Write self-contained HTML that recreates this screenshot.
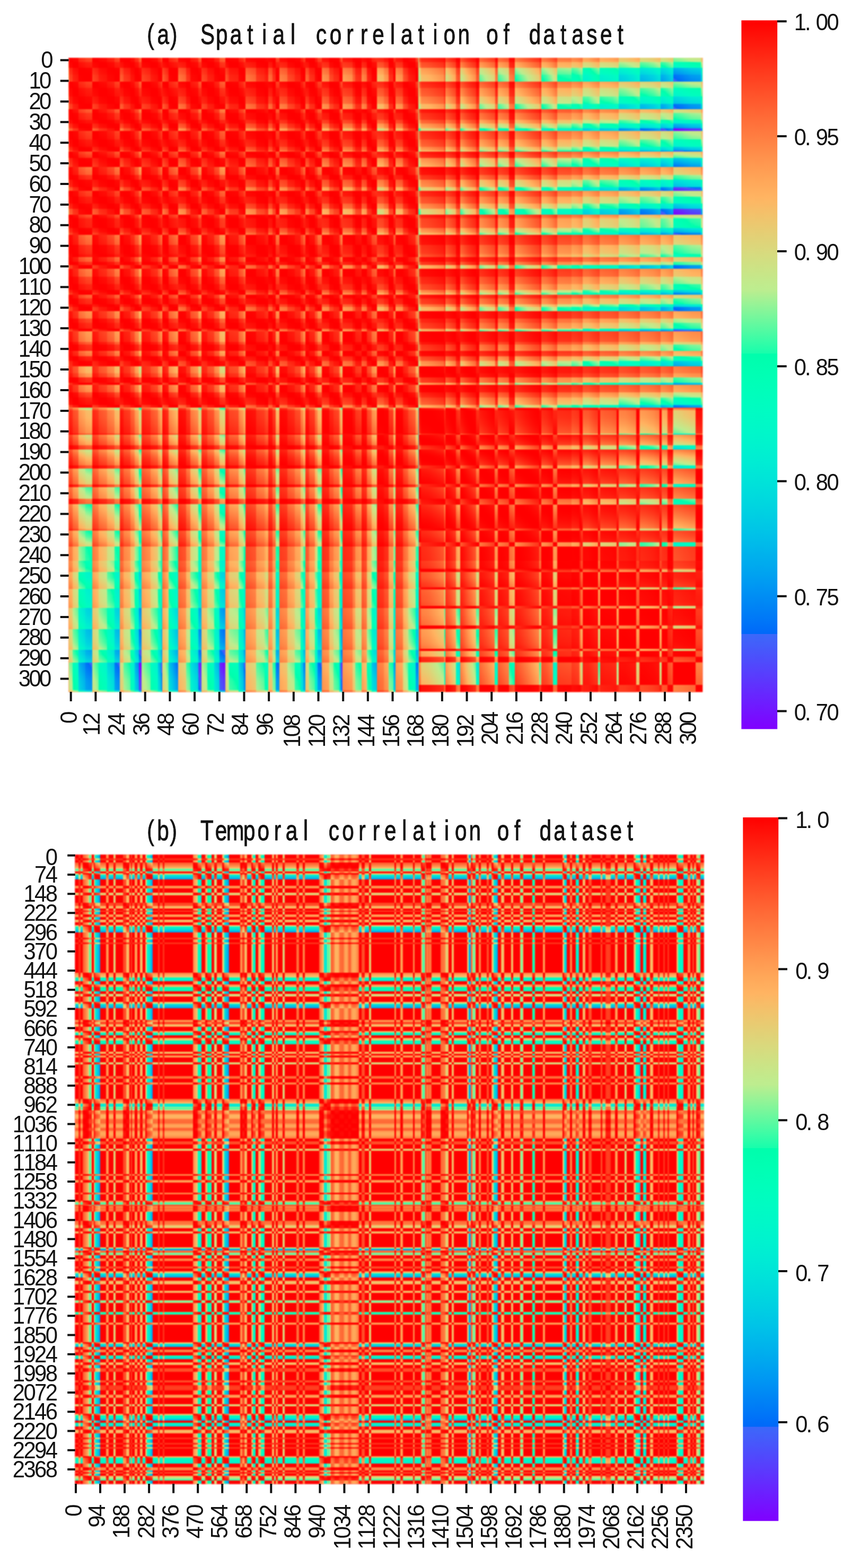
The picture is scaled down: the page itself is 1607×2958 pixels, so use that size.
<!DOCTYPE html>
<html lang="en"><head><meta charset="utf-8"><title>Spatial and temporal correlation of dataset</title><style>html,body{margin:0;padding:0;background:#fff}svg{display:block}</style></head><body>
<svg width="1607" height="2958" viewBox="0 0 1607 2958">
<defs>
<linearGradient id="gxam" gradientUnits="userSpaceOnUse" x1="129.3" y1="0" x2="1325.3" y2="0"><stop offset="0" stop-color="#a0a0a0"/><stop offset=".00669" stop-color="#a7a7a7"/><stop offset=".00669" stop-color="#b6b6b6"/><stop offset=".01589" stop-color="#c1c1c1"/><stop offset=".01589" stop-color="#dbdbdb"/><stop offset=".02642" stop-color="#e5e5e5"/><stop offset=".02642" stop-color="#e9e9e9"/><stop offset=".03779" stop-color="#eeeeee"/><stop offset=".03779" stop-color="#a0a0a0"/><stop offset=".04741" stop-color="#adadad"/><stop offset=".04741" stop-color="#b9b9b9"/><stop offset=".06062" stop-color="#c4c4c4"/><stop offset=".06062" stop-color="#cfcfcf"/><stop offset=".07241" stop-color="#d9d9d9"/><stop offset=".07241" stop-color="#e9e9e9"/><stop offset=".08094" stop-color="#eeeeee"/><stop offset=".08094" stop-color="#929292"/><stop offset=".08687" stop-color="#999999"/><stop offset=".08687" stop-color="#a7a7a7"/><stop offset=".09741" stop-color="#b0b0b0"/><stop offset=".09741" stop-color="#bfbfbf"/><stop offset=".10393" stop-color="#c9c9c9"/><stop offset=".10393" stop-color="#d9d9d9"/><stop offset=".1112" stop-color="#e7e7e7"/><stop offset=".1112" stop-color="#fbfbfb"/><stop offset=".1153" stop-color="#ffffff"/><stop offset=".1153" stop-color="#a0a0a0"/><stop offset=".12893" stop-color="#adadad"/><stop offset=".12893" stop-color="#b9b9b9"/><stop offset=".1408" stop-color="#c7c7c7"/><stop offset=".1408" stop-color="#d6d6d6"/><stop offset=".14607" stop-color="#e2e2e2"/><stop offset=".14607" stop-color="#f0f0f0"/><stop offset=".14783" stop-color="#f0f0f0"/><stop offset=".14783" stop-color="#929292"/><stop offset=".15811" stop-color="#adadad"/><stop offset=".15811" stop-color="#d6d6d6"/><stop offset=".17241" stop-color="#ececec"/><stop offset=".17241" stop-color="#868686"/><stop offset=".18495" stop-color="#929292"/><stop offset=".18495" stop-color="#a7a7a7"/><stop offset=".19181" stop-color="#b0b0b0"/><stop offset=".19181" stop-color="#cccccc"/><stop offset=".20426" stop-color="#dbdbdb"/><stop offset=".20426" stop-color="#f2f2f2"/><stop offset=".20953" stop-color="#fbfbfb"/><stop offset=".20953" stop-color="#9d9d9d"/><stop offset=".21881" stop-color="#a7a7a7"/><stop offset=".21881" stop-color="#b6b6b6"/><stop offset=".22968" stop-color="#bfbfbf"/><stop offset=".22968" stop-color="#d1d1d1"/><stop offset=".23846" stop-color="#dedede"/><stop offset=".23846" stop-color="#f7f7f7"/><stop offset=".24699" stop-color="#fdfdfd"/><stop offset=".24699" stop-color="#929292"/><stop offset=".25309" stop-color="#a7a7a7"/><stop offset=".25309" stop-color="#b3b3b3"/><stop offset=".26814" stop-color="#b9b9b9"/><stop offset=".26814" stop-color="#d1d1d1"/><stop offset=".27609" stop-color="#e2e2e2"/><stop offset=".27609" stop-color="#ececec"/><stop offset=".27943" stop-color="#f0f0f0"/><stop offset=".27943" stop-color="#868686"/><stop offset=".29532" stop-color="#929292"/><stop offset=".29532" stop-color="#a7a7a7"/><stop offset=".30911" stop-color="#b0b0b0"/><stop offset=".30911" stop-color="#b6b6b6"/><stop offset=".31463" stop-color="#bfbfbf"/><stop offset=".31463" stop-color="#8a8a8a"/><stop offset=".32149" stop-color="#929292"/><stop offset=".32149" stop-color="#aaaaaa"/><stop offset=".32709" stop-color="#b0b0b0"/><stop offset=".32709" stop-color="#e9e9e9"/><stop offset=".33278" stop-color="#ececec"/><stop offset=".33278" stop-color="#828282"/><stop offset=".34532" stop-color="#8a8a8a"/><stop offset=".34532" stop-color="#9d9d9d"/><stop offset=".35669" stop-color="#a7a7a7"/><stop offset=".35669" stop-color="#b3b3b3"/><stop offset=".36572" stop-color="#b9b9b9"/><stop offset=".36572" stop-color="#d1d1d1"/><stop offset=".37032" stop-color="#d9d9d9"/><stop offset=".37032" stop-color="#e5e5e5"/><stop offset=".37366" stop-color="#e9e9e9"/><stop offset=".37366" stop-color="#8e8e8e"/><stop offset=".37935" stop-color="#969696"/><stop offset=".37935" stop-color="#aaaaaa"/><stop offset=".38855" stop-color="#b3b3b3"/><stop offset=".38855" stop-color="#cccccc"/><stop offset=".39298" stop-color="#d6d6d6"/><stop offset=".39298" stop-color="#e9e9e9"/><stop offset=".39983" stop-color="#eeeeee"/><stop offset=".39983" stop-color="#7a7a7a"/><stop offset=".41112" stop-color="#828282"/><stop offset=".41112" stop-color="#9d9d9d"/><stop offset=".41798" stop-color="#a3a3a3"/><stop offset=".41798" stop-color="#adadad"/><stop offset=".42701" stop-color="#b6b6b6"/><stop offset=".42701" stop-color="#d6d6d6"/><stop offset=".42952" stop-color="#e5e5e5"/><stop offset=".42952" stop-color="#f2f2f2"/><stop offset=".43161" stop-color="#f7f7f7"/><stop offset=".43161" stop-color="#757575"/><stop offset=".44758" stop-color="#7e7e7e"/><stop offset=".44758" stop-color="#8e8e8e"/><stop offset=".45209" stop-color="#969696"/><stop offset=".45209" stop-color="#aaaaaa"/><stop offset=".46229" stop-color="#b3b3b3"/><stop offset=".46229" stop-color="#7e7e7e"/><stop offset=".47023" stop-color="#8a8a8a"/><stop offset=".47023" stop-color="#b0b0b0"/><stop offset=".47818" stop-color="#c1c1c1"/><stop offset=".47818" stop-color="#d6d6d6"/><stop offset=".4862" stop-color="#e0e0e0"/><stop offset=".4862" stop-color="#666666"/><stop offset=".49749" stop-color="#6c6c6c"/><stop offset=".49749" stop-color="#757575"/><stop offset=".50435" stop-color="#7e7e7e"/><stop offset=".50435" stop-color="#aaaaaa"/><stop offset=".51229" stop-color="#b0b0b0"/><stop offset=".51229" stop-color="#dbdbdb"/><stop offset=".51564" stop-color="#e5e5e5"/><stop offset=".51564" stop-color="#757575"/><stop offset=".52709" stop-color="#7e7e7e"/><stop offset=".52709" stop-color="#969696"/><stop offset=".53612" stop-color="#aaaaaa"/><stop offset=".53612" stop-color="#b6b6b6"/><stop offset=".54741" stop-color="#c7c7c7"/><stop offset=".54741" stop-color="#e5e5e5"/><stop offset=".55201" stop-color="#ececec"/><stop offset=".55201" stop-color="#484848"/><stop offset=".55602" stop-color="#5d5d5d"/><stop offset=".55602" stop-color="#686868"/><stop offset=".56831" stop-color="#6c6c6c"/><stop offset=".5806" stop-color="#747474"/><stop offset=".59289" stop-color="#7d7d7d"/><stop offset=".59289" stop-color="#979797"/><stop offset=".59423" stop-color="#979797"/><stop offset=".59423" stop-color="#565656"/><stop offset=".61054" stop-color="#747474"/><stop offset=".61054" stop-color="#919191"/><stop offset=".61781" stop-color="#9e9e9e"/><stop offset=".61781" stop-color="#4f4f4f"/><stop offset=".63006" stop-color="#686868"/><stop offset=".64231" stop-color="#7d7d7d"/><stop offset=".64231" stop-color="#979797"/><stop offset=".64741" stop-color="#979797"/><stop offset=".64741" stop-color="#454545"/><stop offset=".66003" stop-color="#525252"/><stop offset=".67266" stop-color="#606060"/><stop offset=".67266" stop-color="#878787"/><stop offset=".67726" stop-color="#878787"/><stop offset=".67726" stop-color="#424242"/><stop offset=".69498" stop-color="#525252"/><stop offset=".69498" stop-color="#828282"/><stop offset=".7036" stop-color="#8c8c8c"/><stop offset=".7036" stop-color="#3c3c3c"/><stop offset=".72329" stop-color="#4f4f4f"/><stop offset=".74298" stop-color="#646464"/><stop offset=".74298" stop-color="#747474"/><stop offset=".74557" stop-color="#747474"/><stop offset=".74557" stop-color="#3c3c3c"/><stop offset=".75393" stop-color="#424242"/><stop offset=".76229" stop-color="#4c4c4c"/><stop offset=".77065" stop-color="#5d5d5d"/><stop offset=".77065" stop-color="#3c3c3c"/><stop offset=".79281" stop-color="#3f3f3f"/><stop offset=".79281" stop-color="#353535"/><stop offset=".80188" stop-color="#393939"/><stop offset=".81095" stop-color="#424242"/><stop offset=".81095" stop-color="#292929"/><stop offset=".81973" stop-color="#2b2b2b"/><stop offset=".82851" stop-color="#343434"/><stop offset=".83729" stop-color="#3c3c3c"/><stop offset=".83729" stop-color="#262626"/><stop offset=".8473" stop-color="#292929"/><stop offset=".8573" stop-color="#2b2b2b"/><stop offset=".86731" stop-color="#313131"/><stop offset=".86731" stop-color="#191919"/><stop offset=".87851" stop-color="#1c1c1c"/><stop offset=".88972" stop-color="#212121"/><stop offset=".90092" stop-color="#292929"/><stop offset=".90092" stop-color="#121212"/><stop offset=".91182" stop-color="#151515"/><stop offset=".92271" stop-color="#191919"/><stop offset=".93361" stop-color="#212121"/><stop offset=".93361" stop-color="#0d0d0d"/><stop offset=".9403" stop-color="#101010"/><stop offset=".94699" stop-color="#151515"/><stop offset=".95368" stop-color="#1c1c1c"/><stop offset=".95368" stop-color="#000000"/><stop offset=".9682" stop-color="#040404"/><stop offset=".98272" stop-color="#090909"/><stop offset=".99724" stop-color="#0b0b0b"/><stop offset=".99724" stop-color="#1c1c1c"/><stop offset="1" stop-color="#1c1c1c"/></linearGradient><linearGradient id="gyam" href="#gxam" gradientUnits="userSpaceOnUse" x1="0" y1="109" x2="0" y2="1305.5"/><linearGradient id="gxar" gradientUnits="userSpaceOnUse" x1="129.3" y1="0" x2="1325.3" y2="0"><stop offset="0" stop-color="#a0a0a0"/><stop offset=".00669" stop-color="#a7a7a7"/><stop offset=".00669" stop-color="#b6b6b6"/><stop offset=".01589" stop-color="#c1c1c1"/><stop offset=".01589" stop-color="#dbdbdb"/><stop offset=".02642" stop-color="#e5e5e5"/><stop offset=".02642" stop-color="#e9e9e9"/><stop offset=".03779" stop-color="#eeeeee"/><stop offset=".03779" stop-color="#a0a0a0"/><stop offset=".04741" stop-color="#adadad"/><stop offset=".04741" stop-color="#b9b9b9"/><stop offset=".06062" stop-color="#c4c4c4"/><stop offset=".06062" stop-color="#cfcfcf"/><stop offset=".07241" stop-color="#d9d9d9"/><stop offset=".07241" stop-color="#e9e9e9"/><stop offset=".08094" stop-color="#eeeeee"/><stop offset=".08094" stop-color="#929292"/><stop offset=".08687" stop-color="#999999"/><stop offset=".08687" stop-color="#a7a7a7"/><stop offset=".09741" stop-color="#b0b0b0"/><stop offset=".09741" stop-color="#bfbfbf"/><stop offset=".10393" stop-color="#c9c9c9"/><stop offset=".10393" stop-color="#d9d9d9"/><stop offset=".1112" stop-color="#e7e7e7"/><stop offset=".1112" stop-color="#fbfbfb"/><stop offset=".1153" stop-color="#ffffff"/><stop offset=".1153" stop-color="#a0a0a0"/><stop offset=".12893" stop-color="#adadad"/><stop offset=".12893" stop-color="#b9b9b9"/><stop offset=".1408" stop-color="#c7c7c7"/><stop offset=".1408" stop-color="#d6d6d6"/><stop offset=".14607" stop-color="#e2e2e2"/><stop offset=".14607" stop-color="#f0f0f0"/><stop offset=".14783" stop-color="#f0f0f0"/><stop offset=".14783" stop-color="#929292"/><stop offset=".15811" stop-color="#adadad"/><stop offset=".15811" stop-color="#d6d6d6"/><stop offset=".17241" stop-color="#ececec"/><stop offset=".17241" stop-color="#868686"/><stop offset=".18495" stop-color="#929292"/><stop offset=".18495" stop-color="#a7a7a7"/><stop offset=".19181" stop-color="#b0b0b0"/><stop offset=".19181" stop-color="#cccccc"/><stop offset=".20426" stop-color="#dbdbdb"/><stop offset=".20426" stop-color="#f2f2f2"/><stop offset=".20953" stop-color="#fbfbfb"/><stop offset=".20953" stop-color="#9d9d9d"/><stop offset=".21881" stop-color="#a7a7a7"/><stop offset=".21881" stop-color="#b6b6b6"/><stop offset=".22968" stop-color="#bfbfbf"/><stop offset=".22968" stop-color="#d1d1d1"/><stop offset=".23846" stop-color="#dedede"/><stop offset=".23846" stop-color="#f7f7f7"/><stop offset=".24699" stop-color="#fdfdfd"/><stop offset=".24699" stop-color="#929292"/><stop offset=".25309" stop-color="#a7a7a7"/><stop offset=".25309" stop-color="#b3b3b3"/><stop offset=".26814" stop-color="#b9b9b9"/><stop offset=".26814" stop-color="#d1d1d1"/><stop offset=".27609" stop-color="#e2e2e2"/><stop offset=".27609" stop-color="#ececec"/><stop offset=".27943" stop-color="#f0f0f0"/><stop offset=".27943" stop-color="#868686"/><stop offset=".29532" stop-color="#929292"/><stop offset=".29532" stop-color="#a7a7a7"/><stop offset=".30911" stop-color="#b0b0b0"/><stop offset=".30911" stop-color="#b6b6b6"/><stop offset=".31463" stop-color="#bfbfbf"/><stop offset=".31463" stop-color="#8a8a8a"/><stop offset=".32149" stop-color="#929292"/><stop offset=".32149" stop-color="#aaaaaa"/><stop offset=".32709" stop-color="#b0b0b0"/><stop offset=".32709" stop-color="#e9e9e9"/><stop offset=".33278" stop-color="#ececec"/><stop offset=".33278" stop-color="#828282"/><stop offset=".34532" stop-color="#8a8a8a"/><stop offset=".34532" stop-color="#9d9d9d"/><stop offset=".35669" stop-color="#a7a7a7"/><stop offset=".35669" stop-color="#b3b3b3"/><stop offset=".36572" stop-color="#b9b9b9"/><stop offset=".36572" stop-color="#d1d1d1"/><stop offset=".37032" stop-color="#d9d9d9"/><stop offset=".37032" stop-color="#e5e5e5"/><stop offset=".37366" stop-color="#e9e9e9"/><stop offset=".37366" stop-color="#8e8e8e"/><stop offset=".37935" stop-color="#969696"/><stop offset=".37935" stop-color="#aaaaaa"/><stop offset=".38855" stop-color="#b3b3b3"/><stop offset=".38855" stop-color="#cccccc"/><stop offset=".39298" stop-color="#d6d6d6"/><stop offset=".39298" stop-color="#e9e9e9"/><stop offset=".39983" stop-color="#eeeeee"/><stop offset=".39983" stop-color="#7a7a7a"/><stop offset=".41112" stop-color="#828282"/><stop offset=".41112" stop-color="#9d9d9d"/><stop offset=".41798" stop-color="#a3a3a3"/><stop offset=".41798" stop-color="#adadad"/><stop offset=".42701" stop-color="#b6b6b6"/><stop offset=".42701" stop-color="#d6d6d6"/><stop offset=".42952" stop-color="#e5e5e5"/><stop offset=".42952" stop-color="#f2f2f2"/><stop offset=".43161" stop-color="#f7f7f7"/><stop offset=".43161" stop-color="#757575"/><stop offset=".44758" stop-color="#7e7e7e"/><stop offset=".44758" stop-color="#8e8e8e"/><stop offset=".45209" stop-color="#969696"/><stop offset=".45209" stop-color="#aaaaaa"/><stop offset=".46229" stop-color="#b3b3b3"/><stop offset=".46229" stop-color="#7e7e7e"/><stop offset=".47023" stop-color="#8a8a8a"/><stop offset=".47023" stop-color="#b0b0b0"/><stop offset=".47818" stop-color="#c1c1c1"/><stop offset=".47818" stop-color="#d6d6d6"/><stop offset=".4862" stop-color="#e0e0e0"/><stop offset=".4862" stop-color="#666666"/><stop offset=".49749" stop-color="#6c6c6c"/><stop offset=".49749" stop-color="#757575"/><stop offset=".50435" stop-color="#7e7e7e"/><stop offset=".50435" stop-color="#aaaaaa"/><stop offset=".51229" stop-color="#b0b0b0"/><stop offset=".51229" stop-color="#dbdbdb"/><stop offset=".51564" stop-color="#e5e5e5"/><stop offset=".51564" stop-color="#757575"/><stop offset=".52709" stop-color="#7e7e7e"/><stop offset=".52709" stop-color="#969696"/><stop offset=".53612" stop-color="#aaaaaa"/><stop offset=".53612" stop-color="#b6b6b6"/><stop offset=".54741" stop-color="#c7c7c7"/><stop offset=".54741" stop-color="#e5e5e5"/><stop offset=".55201" stop-color="#ececec"/><stop offset=".55201" stop-color="#484848"/><stop offset=".55602" stop-color="#5d5d5d"/><stop offset=".55602" stop-color="#686868"/><stop offset=".56831" stop-color="#6c6c6c"/><stop offset=".5806" stop-color="#747474"/><stop offset=".59289" stop-color="#7d7d7d"/><stop offset=".59289" stop-color="#979797"/><stop offset=".59423" stop-color="#979797"/><stop offset=".59423" stop-color="#565656"/><stop offset=".61054" stop-color="#747474"/><stop offset=".61054" stop-color="#919191"/><stop offset=".61781" stop-color="#9e9e9e"/><stop offset=".61781" stop-color="#4f4f4f"/><stop offset=".63006" stop-color="#686868"/><stop offset=".64231" stop-color="#7d7d7d"/><stop offset=".64231" stop-color="#979797"/><stop offset=".64741" stop-color="#979797"/><stop offset=".64741" stop-color="#454545"/><stop offset=".66003" stop-color="#525252"/><stop offset=".66003" stop-color="#525252"/><stop offset=".67232" stop-color="#606060"/><stop offset=".67232" stop-color="#929292"/><stop offset=".67684" stop-color="#929292"/><stop offset=".67684" stop-color="#878787"/><stop offset=".67726" stop-color="#878787"/><stop offset=".67726" stop-color="#424242"/><stop offset=".69498" stop-color="#525252"/><stop offset=".69498" stop-color="#828282"/><stop offset=".70276" stop-color="#8b8b8b"/><stop offset=".70276" stop-color="#8d8d8d"/><stop offset=".70418" stop-color="#8d8d8d"/><stop offset=".70418" stop-color="#3d3d3d"/><stop offset=".72329" stop-color="#4f4f4f"/><stop offset=".72329" stop-color="#4f4f4f"/><stop offset=".74222" stop-color="#636363"/><stop offset=".74222" stop-color="#808080"/><stop offset=".74515" stop-color="#808080"/><stop offset=".74515" stop-color="#747474"/><stop offset=".74557" stop-color="#747474"/><stop offset=".74557" stop-color="#3c3c3c"/><stop offset=".75393" stop-color="#424242"/><stop offset=".75393" stop-color="#424242"/><stop offset=".76229" stop-color="#4c4c4c"/><stop offset=".76229" stop-color="#4c4c4c"/><stop offset=".76421" stop-color="#4f4f4f"/><stop offset=".76421" stop-color="#929292"/><stop offset=".77065" stop-color="#929292"/><stop offset=".77065" stop-color="#3c3c3c"/><stop offset=".79281" stop-color="#3f3f3f"/><stop offset=".79281" stop-color="#353535"/><stop offset=".80188" stop-color="#393939"/><stop offset=".80188" stop-color="#393939"/><stop offset=".80585" stop-color="#3d3d3d"/><stop offset=".80585" stop-color="#595959"/><stop offset=".81054" stop-color="#7b7b7b"/><stop offset=".81054" stop-color="#424242"/><stop offset=".81095" stop-color="#424242"/><stop offset=".81095" stop-color="#292929"/><stop offset=".81973" stop-color="#2b2b2b"/><stop offset=".81973" stop-color="#2b2b2b"/><stop offset=".82851" stop-color="#343434"/><stop offset=".82851" stop-color="#343434"/><stop offset=".83462" stop-color="#3a3a3a"/><stop offset=".83462" stop-color="#808080"/><stop offset=".83829" stop-color="#808080"/><stop offset=".83829" stop-color="#262626"/><stop offset=".8473" stop-color="#292929"/><stop offset=".8473" stop-color="#292929"/><stop offset=".8573" stop-color="#2b2b2b"/><stop offset=".8573" stop-color="#2b2b2b"/><stop offset=".86421" stop-color="#2f2f2f"/><stop offset=".86421" stop-color="#767676"/><stop offset=".86798" stop-color="#767676"/><stop offset=".86798" stop-color="#1a1a1a"/><stop offset=".87851" stop-color="#1c1c1c"/><stop offset=".87851" stop-color="#1c1c1c"/><stop offset=".88972" stop-color="#212121"/><stop offset=".88972" stop-color="#212121"/><stop offset=".89482" stop-color="#242424"/><stop offset=".89482" stop-color="#6c6c6c"/><stop offset=".90033" stop-color="#6c6c6c"/><stop offset=".90033" stop-color="#282828"/><stop offset=".90092" stop-color="#292929"/><stop offset=".90092" stop-color="#121212"/><stop offset=".91182" stop-color="#151515"/><stop offset=".91182" stop-color="#151515"/><stop offset=".92271" stop-color="#191919"/><stop offset=".92271" stop-color="#191919"/><stop offset=".93186" stop-color="#202020"/><stop offset=".93186" stop-color="#717171"/><stop offset=".93554" stop-color="#717171"/><stop offset=".93554" stop-color="#0e0e0e"/><stop offset=".9403" stop-color="#101010"/><stop offset=".9403" stop-color="#101010"/><stop offset=".94482" stop-color="#131313"/><stop offset=".94482" stop-color="#3b3b3b"/><stop offset=".95318" stop-color="#454545"/><stop offset=".95318" stop-color="#1b1b1b"/><stop offset=".95368" stop-color="#1c1c1c"/><stop offset=".95368" stop-color="#000000"/><stop offset=".9682" stop-color="#040404"/><stop offset=".9682" stop-color="#040404"/><stop offset=".98272" stop-color="#090909"/><stop offset=".98272" stop-color="#090909"/><stop offset=".98888" stop-color="#0a0a0a"/><stop offset=".98888" stop-color="#4e4e4e"/><stop offset="1" stop-color="#4e4e4e"/></linearGradient><linearGradient id="gyar" href="#gxar" gradientUnits="userSpaceOnUse" x1="0" y1="109" x2="0" y2="1305.5"/><filter id="cma0" filterUnits="userSpaceOnUse" x="0" y="0" width="1607" height="2958" color-interpolation-filters="sRGB"><feComponentTransfer><feFuncR type="table" tableValues="1 1 1 1 1 1 1 1 1 1 1 1 1 1 1 1 1 1 1 1 1 1 1 1 1 1 1 1 1 1 1 1 1 1 1 1 1 1 1 1 1 1 1 1 1 1 1 1 1 1 1 1 1 1 1 1 1 1 1 1 1 1 1 1 1 1 1 1 1 1 1 1 1 1 1 1 1 1 1 1 1 1 1 1 1 1 1 1 1 1 1 1 1 1 1 1 1 1 1 1 1 1 1 1 1 1 1 1 1 1 1 1 1 1 1 1 1 1 1 1 1 1 1 1 1 1 1 .994 .986 .978 .97 .962 .954 .945 .937 .929 .92 .911 .903 .894 .885 .877 .868 .859 .85 .841 .832 .822 .813 .804 .795 .785 .776 .766 .756 .747 .729 .693 .658 .622 .586 .549 .513 .476 .439 .401 .364 .326 .288 .25 .211 .173 .134 .095 0 0 0 0 0 0 0 0 0 0 0 0 0 0 0 0 0 0 0 0 0 0 0 0 0 0 0 0 0 0 0 0 0 0 0 0 0 0 0 0 0 0 0 0 0 0 0 0 0 0 0 0 0 0 0 0 0 0 0 0 0 0 .246 .261 .276 .291 .306 .321 .336 .351 .367 .382 .397 .413 .428 .444 .46 .475 .491 .5 .5 .5"/><feFuncG type="table" tableValues="0 0 0 0 .001 .001 .002 .002 .003 .004 .005 .006 .007 .008 .01 .011 .013 .014 .016 .018 .02 .022 .024 .026 .028 .031 .033 .036 .039 .041 .044 .047 .05 .054 .057 .06 .064 .067 .071 .075 .079 .083 .087 .091 .095 .1 .104 .109 .113 .118 .123 .128 .133 .138 .143 .148 .154 .159 .165 .171 .176 .182 .188 .194 .2 .207 .213 .219 .226 .232 .239 .246 .253 .259 .266 .274 .281 .288 .295 .303 .31 .318 .325 .333 .341 .348 .356 .364 .372 .38 .388 .397 .405 .413 .422 .43 .438 .447 .456 .464 .473 .482 .49 .499 .508 .517 .526 .534 .543 .552 .561 .57 .579 .588 .597 .606 .615 .624 .633 .642 .651 .66 .669 .678 .687 .696 .705 .713 .722 .731 .74 .748 .757 .765 .774 .782 .79 .798 .806 .814 .822 .83 .838 .845 .853 .86 .867 .874 .881 .888 .895 .901 .908 .914 .92 .926 .932 .937 .942 .947 .952 .957 .962 .966 .97 .974 .977 .981 .984 .987 .989 .991 .994 .995 .997 .998 .999 1 1 1 1 .999 .998 .997 .995 .993 .991 .989 .986 .982 .979 .975 .97 .965 .96 .955 .949 .943 .936 .929 .921 .913 .905 .897 .888 .878 .868 .858 .847 .836 .825 .813 .8 .788 .775 .761 .747 .733 .718 .703 .687 .671 .655 .638 .621 .604 .586 .568 .549 .53 .511 .491 .471 .451 .43 .409 .388 .366 .345 .322 .3 .277 .254 .231 .208 .184 .16 .136 .112 .088 .063 .039 .014 0 0 0"/><feFuncB type="table" tableValues="0 0 0 0 0 .001 .001 .001 .002 .002 .002 .003 .004 .004 .005 .006 .006 .007 .008 .009 .01 .011 .012 .013 .014 .015 .017 .018 .019 .021 .022 .024 .025 .027 .028 .03 .032 .034 .036 .037 .039 .041 .043 .046 .048 .05 .052 .054 .057 .059 .062 .064 .067 .069 .072 .074 .077 .08 .083 .086 .089 .092 .095 .098 .101 .104 .107 .11 .114 .117 .12 .124 .127 .131 .134 .138 .142 .145 .149 .153 .157 .161 .165 .169 .173 .177 .181 .185 .19 .194 .198 .203 .207 .211 .216 .22 .225 .23 .234 .239 .244 .249 .253 .258 .263 .268 .273 .278 .283 .288 .294 .299 .304 .309 .315 .32 .325 .331 .336 .342 .347 .353 .358 .364 .37 .375 .381 .387 .393 .398 .404 .41 .416 .422 .428 .434 .44 .446 .452 .458 .464 .47 .476 .483 .489 .495 .501 .507 .514 .52 .526 .532 .539 .545 .551 .558 .564 .57 .577 .583 .589 .596 .602 .609 .615 .621 .628 .634 .64 .647 .653 .659 .666 .672 .678 .685 .691 .697 .703 .71 .716 .722 .728 .734 .74 .747 .753 .759 .765 .771 .776 .782 .788 .794 .8 .805 .811 .817 .822 .828 .833 .839 .844 .849 .855 .86 .865 .87 .875 .88 .885 .89 .894 .899 .903 .908 .912 .917 .921 .925 .929 .933 .937 .941 .944 .948 .951 .955 .958 .961 .964 .967 .97 .973 .975 .978 .98 .982 .985 .987 .988 .99 .992 .993 .995 .996 .997 .998 .998 .999 .999 1 1 1 1 1"/></feComponentTransfer></filter><filter id="cma1" filterUnits="userSpaceOnUse" x="0" y="0" width="1607" height="2958" color-interpolation-filters="sRGB"><feComponentTransfer><feFuncR type="table" tableValues="1 1 1 1 1 1 1 1 1 1 1 1 1 1 1 1 1 1 1 1 1 1 1 1 1 1 1 1 1 1 1 1 1 1 1 1 1 1 1 1 1 1 1 1 1 1 1 1 1 1 1 1 1 1 1 1 1 1 1 1 1 1 1 1 1 1 1 1 1 1 1 1 1 1 1 1 1 1 1 1 1 1 1 1 1 1 1 1 1 1 1 1 1 1 1 .991 .98 .969 .958 .947 .936 .924 .913 .901 .89 .878 .866 .854 .842 .829 .817 .805 .792 .779 .767 .754 .741 .694 .646 .598 .549 .5 .45 .4 .35 .299 .248 .196 .144 .092 0 0 0 0 0 0 0 0 0 0 0 0 0 0 0 0 0 0 0 0 0 0 0 0 0 0 0 0 0 0 0 0 0 0 0 0 0 0 0 0 0 0 0 0 0 0 .248 .268 .288 .308 .329 .349 .369 .39 .411 .432 .453 .474 .495 .5 .5 .5 .5 .5 .5 .5 .5 .5 .5 .5 .5 .5 .5 .5 .5 .5 .5 .5 .5 .5 .5 .5 .5 .5 .5 .5 .5 .5 .5 .5 .5 .5 .5 .5 .5 .5 .5 .5 .5 .5 .5 .5 .5 .5 .5 .5 .5 .5 .5 .5 .5 .5 .5 .5 .5 .5 .5 .5 .5 .5 .5 .5 .5 .5 .5 .5"/><feFuncG type="table" tableValues="0 0 0 .001 .001 .002 .003 .004 .006 .007 .009 .011 .013 .015 .017 .02 .023 .026 .029 .032 .035 .039 .043 .047 .051 .055 .06 .065 .069 .074 .08 .085 .091 .096 .102 .108 .115 .121 .128 .134 .141 .148 .156 .163 .171 .179 .186 .195 .203 .211 .22 .229 .237 .246 .256 .265 .274 .284 .294 .304 .314 .324 .334 .345 .355 .366 .377 .388 .399 .41 .421 .432 .444 .455 .467 .478 .49 .502 .514 .525 .537 .549 .561 .573 .586 .598 .61 .622 .634 .646 .658 .67 .682 .694 .706 .717 .729 .741 .752 .764 .775 .786 .797 .808 .819 .829 .839 .849 .859 .869 .878 .888 .897 .905 .914 .922 .929 .937 .944 .951 .957 .963 .969 .974 .979 .983 .987 .99 .993 .995 .997 .999 1 1 1 .999 .998 .996 .993 .99 .986 .982 .977 .971 .964 .957 .95 .941 .932 .922 .911 .9 .888 .875 .862 .848 .833 .817 .801 .784 .766 .747 .728 .708 .687 .665 .643 .62 .597 .572 .548 .522 .496 .469 .442 .414 .385 .356 .327 .297 .266 .235 .204 .172 .14 .107 .074 .041 .008 0 0 0 0 0 0 0 0 0 0 0 0 0 0 0 0 0 0 0 0 0 0 0 0 0 0 0 0 0 0 0 0 0 0 0 0 0 0 0 0 0 0 0 0 0 0 0 0 0 0 0 0 0 0 0 0 0 0 0 0 0 0 0 0 0 0 0"/><feFuncB type="table" tableValues="0 0 0 0 .001 .001 .002 .002 .003 .004 .004 .005 .006 .007 .009 .01 .011 .013 .014 .016 .018 .02 .021 .023 .026 .028 .03 .032 .035 .037 .04 .043 .045 .048 .051 .054 .057 .061 .064 .067 .071 .074 .078 .082 .086 .09 .094 .098 .102 .106 .111 .115 .12 .124 .129 .134 .139 .144 .149 .154 .159 .164 .17 .175 .181 .186 .192 .198 .204 .209 .215 .222 .228 .234 .24 .247 .253 .26 .266 .273 .28 .287 .294 .301 .308 .315 .322 .329 .337 .344 .351 .359 .366 .374 .382 .389 .397 .405 .413 .421 .429 .437 .445 .453 .461 .469 .478 .486 .494 .503 .511 .519 .528 .536 .545 .553 .562 .57 .579 .587 .596 .604 .613 .621 .63 .639 .647 .656 .664 .673 .681 .689 .698 .706 .715 .723 .731 .739 .747 .756 .764 .772 .779 .787 .795 .803 .81 .818 .825 .833 .84 .847 .854 .861 .868 .875 .881 .888 .894 .9 .906 .912 .918 .924 .929 .934 .94 .945 .949 .954 .958 .963 .967 .97 .974 .977 .981 .983 .986 .989 .991 .993 .995 .996 .998 .999 .999 1 1 1 1 1 1 1 1 1 1 1 1 1 1 1 1 1 1 1 1 1 1 1 1 1 1 1 1 1 1 1 1 1 1 1 1 1 1 1 1 1 1 1 1 1 1 1 1 1 1 1 1 1 1 1 1 1 1 1 1 1 1 1 1 1 1 1 1 1"/></feComponentTransfer></filter><filter id="bla" filterUnits="userSpaceOnUse" x="121.3" y="101" width="1212" height="1212.5" color-interpolation-filters="sRGB"><feGaussianBlur stdDeviation="1"/></filter>
<linearGradient id="cba" x1="0" y1="1" x2="0" y2="0"><stop offset="0" stop-color="#8000ff"/><stop offset=".025" stop-color="#7314ff"/><stop offset=".05" stop-color="#6628fe"/><stop offset=".075" stop-color="#593cfd"/><stop offset=".1" stop-color="#4c4ffc"/><stop offset=".125" stop-color="#4062fa"/><stop offset=".1339" stop-color="#3b68f9"/><stop offset=".134" stop-color="#0068f9"/><stop offset=".15" stop-color="#0074f8"/><stop offset=".175" stop-color="#0085f5"/><stop offset=".2" stop-color="#0096f3"/><stop offset=".225" stop-color="#00a6ef"/><stop offset=".25" stop-color="#00b4ec"/><stop offset=".275" stop-color="#00c2e8"/><stop offset=".3" stop-color="#00cee3"/><stop offset=".325" stop-color="#00d9de"/><stop offset=".35" stop-color="#00e3d9"/><stop offset=".375" stop-color="#00ecd4"/><stop offset=".4" stop-color="#00f3ce"/><stop offset=".425" stop-color="#00f8c8"/><stop offset=".45" stop-color="#00fcc2"/><stop offset=".475" stop-color="#00febb"/><stop offset=".5" stop-color="#00ffb4"/><stop offset=".525" stop-color="#00fead"/><stop offset=".53" stop-color="#00feac"/><stop offset=".5301" stop-color="#17feac"/><stop offset=".55" stop-color="#3cfca6"/><stop offset=".575" stop-color="#6af89e"/><stop offset=".6" stop-color="#98f396"/><stop offset=".62" stop-color="#bded8f"/><stop offset=".625" stop-color="#bfec8e"/><stop offset=".65" stop-color="#cce385"/><stop offset=".675" stop-color="#d9d97d"/><stop offset=".7" stop-color="#e5ce74"/><stop offset=".725" stop-color="#f2c26b"/><stop offset=".75" stop-color="#ffb462"/><stop offset=".775" stop-color="#ffa658"/><stop offset=".8" stop-color="#ff964f"/><stop offset=".825" stop-color="#ff8545"/><stop offset=".85" stop-color="#ff743c"/><stop offset=".875" stop-color="#ff6232"/><stop offset=".9" stop-color="#ff4f28"/><stop offset=".925" stop-color="#ff3c1e"/><stop offset=".95" stop-color="#ff2814"/><stop offset=".975" stop-color="#ff140a"/><stop offset="1" stop-color="#ff0000"/></linearGradient>
<linearGradient id="gxbm" gradientUnits="userSpaceOnUse" x1="141.5" y1="0" x2="1328" y2="0"><stop offset="0" stop-color="#000000"/><stop offset=".00548" stop-color="#000000"/><stop offset=".00548" stop-color="#424242"/><stop offset=".00885" stop-color="#424242"/><stop offset=".00885" stop-color="#000000"/><stop offset=".01256" stop-color="#000000"/><stop offset=".01256" stop-color="#5d5d5d"/><stop offset=".02166" stop-color="#909090"/><stop offset=".02166" stop-color="#a7a7a7"/><stop offset=".02406" stop-color="#c3c3c3"/><stop offset=".02646" stop-color="#a7a7a7"/><stop offset=".02646" stop-color="#000000"/><stop offset=".0295" stop-color="#000000"/><stop offset=".0295" stop-color="#767676"/><stop offset=".03186" stop-color="#bababa"/><stop offset=".03186" stop-color="#dcdcdc"/><stop offset=".03578" stop-color="#ededed"/><stop offset=".0397" stop-color="#ffffff"/><stop offset=".0397" stop-color="#000000"/><stop offset=".0493" stop-color="#000000"/><stop offset=".0493" stop-color="#767676"/><stop offset=".05141" stop-color="#848484"/><stop offset=".05352" stop-color="#767676"/><stop offset=".05352" stop-color="#000000"/><stop offset=".06077" stop-color="#000000"/><stop offset=".06077" stop-color="#909090"/><stop offset=".06258" stop-color="#a7a7a7"/><stop offset=".06439" stop-color="#909090"/><stop offset=".06439" stop-color="#000000"/><stop offset=".07644" stop-color="#000000"/><stop offset=".07644" stop-color="#535353"/><stop offset=".08133" stop-color="#5d5d5d"/><stop offset=".08133" stop-color="#848484"/><stop offset=".08369" stop-color="#969696"/><stop offset=".08605" stop-color="#848484"/><stop offset=".08605" stop-color="#000000"/><stop offset=".08892" stop-color="#000000"/><stop offset=".08892" stop-color="#535353"/><stop offset=".0906" stop-color="#535353"/><stop offset=".0906" stop-color="#000000"/><stop offset=".09456" stop-color="#000000"/><stop offset=".09456" stop-color="#767676"/><stop offset=".09697" stop-color="#8a8a8a"/><stop offset=".09937" stop-color="#767676"/><stop offset=".09937" stop-color="#000000"/><stop offset=".10299" stop-color="#000000"/><stop offset=".10299" stop-color="#848484"/><stop offset=".1051" stop-color="#9c9c9c"/><stop offset=".10721" stop-color="#848484"/><stop offset=".10721" stop-color="#000000"/><stop offset=".11167" stop-color="#000000"/><stop offset=".11167" stop-color="#767676"/><stop offset=".1142" stop-color="#bababa"/><stop offset=".1142" stop-color="#d4d4d4"/><stop offset=".11884" stop-color="#e6e6e6"/><stop offset=".12347" stop-color="#ffffff"/><stop offset=".12347" stop-color="#000000"/><stop offset=".1319" stop-color="#000000"/><stop offset=".1319" stop-color="#484848"/><stop offset=".13443" stop-color="#484848"/><stop offset=".13443" stop-color="#000000"/><stop offset=".13949" stop-color="#000000"/><stop offset=".13949" stop-color="#484848"/><stop offset=".14201" stop-color="#484848"/><stop offset=".14201" stop-color="#000000"/><stop offset=".18778" stop-color="#000000"/><stop offset=".18778" stop-color="#767676"/><stop offset=".19503" stop-color="#9c9c9c"/><stop offset=".19503" stop-color="#cccccc"/><stop offset=".20101" stop-color="#e4e4e4"/><stop offset=".20101" stop-color="#000000"/><stop offset=".20649" stop-color="#000000"/><stop offset=".20649" stop-color="#767676"/><stop offset=".2107" stop-color="#9c9c9c"/><stop offset=".2107" stop-color="#c3c3c3"/><stop offset=".21728" stop-color="#d4d4d4"/><stop offset=".21728" stop-color="#000000"/><stop offset=".2209" stop-color="#000000"/><stop offset=".2209" stop-color="#909090"/><stop offset=".22301" stop-color="#b1b1b1"/><stop offset=".22512" stop-color="#909090"/><stop offset=".22512" stop-color="#000000"/><stop offset=".23354" stop-color="#000000"/><stop offset=".23354" stop-color="#848484"/><stop offset=".23717" stop-color="#bababa"/><stop offset=".23717" stop-color="#e4e4e4"/><stop offset=".24079" stop-color="#f1f1f1"/><stop offset=".24442" stop-color="#ffffff"/><stop offset=".24442" stop-color="#000000"/><stop offset=".26245" stop-color="#000000"/><stop offset=".26245" stop-color="#767676"/><stop offset=".26426" stop-color="#848484"/><stop offset=".26608" stop-color="#767676"/><stop offset=".26608" stop-color="#535353"/><stop offset=".2697" stop-color="#535353"/><stop offset=".2697" stop-color="#848484"/><stop offset=".27151" stop-color="#9c9c9c"/><stop offset=".27332" stop-color="#848484"/><stop offset=".27332" stop-color="#000000"/><stop offset=".28057" stop-color="#000000"/><stop offset=".28057" stop-color="#848484"/><stop offset=".28293" stop-color="#a7a7a7"/><stop offset=".28293" stop-color="#d0d0d0"/><stop offset=".28723" stop-color="#dcdcdc"/><stop offset=".28723" stop-color="#000000"/><stop offset=".29145" stop-color="#000000"/><stop offset=".29145" stop-color="#848484"/><stop offset=".29499" stop-color="#a1a1a1"/><stop offset=".29499" stop-color="#cccccc"/><stop offset=".30105" stop-color="#d8d8d8"/><stop offset=".30105" stop-color="#000000"/><stop offset=".31311" stop-color="#000000"/><stop offset=".31311" stop-color="#848484"/><stop offset=".31492" stop-color="#9c9c9c"/><stop offset=".31673" stop-color="#848484"/><stop offset=".31673" stop-color="#000000"/><stop offset=".31901" stop-color="#000000"/><stop offset=".31901" stop-color="#767676"/><stop offset=".32086" stop-color="#8a8a8a"/><stop offset=".32271" stop-color="#767676"/><stop offset=".32271" stop-color="#000000"/><stop offset=".32988" stop-color="#000000"/><stop offset=".32988" stop-color="#909090"/><stop offset=".33169" stop-color="#acacac"/><stop offset=".3335" stop-color="#909090"/><stop offset=".3335" stop-color="#000000"/><stop offset=".35213" stop-color="#000000"/><stop offset=".35213" stop-color="#666666"/><stop offset=".35394" stop-color="#6e6e6e"/><stop offset=".35575" stop-color="#666666"/><stop offset=".35575" stop-color="#000000"/><stop offset=".36174" stop-color="#000000"/><stop offset=".36174" stop-color="#6e6e6e"/><stop offset=".36355" stop-color="#7d7d7d"/><stop offset=".36536" stop-color="#6e6e6e"/><stop offset=".36536" stop-color="#000000"/><stop offset=".38828" stop-color="#000000"/><stop offset=".38828" stop-color="#666666"/><stop offset=".39553" stop-color="#969696"/><stop offset=".39553" stop-color="#dcdcdc"/><stop offset=".39823" stop-color="#e2e2e2"/><stop offset=".40093" stop-color="#dcdcdc"/><stop offset=".40093" stop-color="#b1b1b1"/><stop offset=".40362" stop-color="#bfbfbf"/><stop offset=".40632" stop-color="#a7a7a7"/><stop offset=".40632" stop-color="#5d5d5d"/><stop offset=".41256" stop-color="#767676"/><stop offset=".41256" stop-color="#8a8a8a"/><stop offset=".41635" stop-color="#909090"/><stop offset=".42014" stop-color="#848484"/><stop offset=".42014" stop-color="#6e6e6e"/><stop offset=".42689" stop-color="#666666"/><stop offset=".42689" stop-color="#767676"/><stop offset=".43068" stop-color="#8a8a8a"/><stop offset=".43447" stop-color="#7d7d7d"/><stop offset=".43447" stop-color="#666666"/><stop offset=".43869" stop-color="#666666"/><stop offset=".43869" stop-color="#7d7d7d"/><stop offset=".44276" stop-color="#8a8a8a"/><stop offset=".44683" stop-color="#848484"/><stop offset=".45091" stop-color="#6e6e6e"/><stop offset=".45091" stop-color="#000000"/><stop offset=".45579" stop-color="#000000"/><stop offset=".45579" stop-color="#535353"/><stop offset=".4582" stop-color="#5d5d5d"/><stop offset=".4606" stop-color="#535353"/><stop offset=".4606" stop-color="#000000"/><stop offset=".46717" stop-color="#000000"/><stop offset=".46717" stop-color="#8a8a8a"/><stop offset=".46898" stop-color="#a7a7a7"/><stop offset=".4708" stop-color="#8a8a8a"/><stop offset=".4708" stop-color="#000000"/><stop offset=".50746" stop-color="#000000"/><stop offset=".50746" stop-color="#6e6e6e"/><stop offset=".50898" stop-color="#7d7d7d"/><stop offset=".51049" stop-color="#6e6e6e"/><stop offset=".51049" stop-color="#000000"/><stop offset=".51707" stop-color="#000000"/><stop offset=".51707" stop-color="#767676"/><stop offset=".51917" stop-color="#8a8a8a"/><stop offset=".52128" stop-color="#767676"/><stop offset=".52128" stop-color="#000000"/><stop offset=".53696" stop-color="#000000"/><stop offset=".53696" stop-color="#6e6e6e"/><stop offset=".53847" stop-color="#7d7d7d"/><stop offset=".53999" stop-color="#6e6e6e"/><stop offset=".53999" stop-color="#000000"/><stop offset=".54994" stop-color="#000000"/><stop offset=".54994" stop-color="#6e6e6e"/><stop offset=".55204" stop-color="#909090"/><stop offset=".55204" stop-color="#b1b1b1"/><stop offset=".55415" stop-color="#c3c3c3"/><stop offset=".55626" stop-color="#b1b1b1"/><stop offset=".55626" stop-color="#000000"/><stop offset=".55752" stop-color="#000000"/><stop offset=".55752" stop-color="#666666"/><stop offset=".55992" stop-color="#767676"/><stop offset=".56233" stop-color="#666666"/><stop offset=".56473" stop-color="#767676"/><stop offset=".56713" stop-color="#5d5d5d"/><stop offset=".56713" stop-color="#000000"/><stop offset=".58154" stop-color="#000000"/><stop offset=".58154" stop-color="#666666"/><stop offset=".58512" stop-color="#6e6e6e"/><stop offset=".58871" stop-color="#767676"/><stop offset=".58871" stop-color="#909090"/><stop offset=".59115" stop-color="#a1a1a1"/><stop offset=".59359" stop-color="#909090"/><stop offset=".59359" stop-color="#000000"/><stop offset=".5984" stop-color="#000000"/><stop offset=".5984" stop-color="#848484"/><stop offset=".60021" stop-color="#9c9c9c"/><stop offset=".60202" stop-color="#848484"/><stop offset=".60202" stop-color="#000000"/><stop offset=".62368" stop-color="#000000"/><stop offset=".62368" stop-color="#848484"/><stop offset=".62613" stop-color="#c3c3c3"/><stop offset=".62613" stop-color="#f5f5f5"/><stop offset=".62764" stop-color="#ffffff"/><stop offset=".62916" stop-color="#f5f5f5"/><stop offset=".62916" stop-color="#6e6e6e"/><stop offset=".63211" stop-color="#5d5d5d"/><stop offset=".63211" stop-color="#acacac"/><stop offset=".63422" stop-color="#bfbfbf"/><stop offset=".63633" stop-color="#acacac"/><stop offset=".63633" stop-color="#000000"/><stop offset=".6418" stop-color="#000000"/><stop offset=".6418" stop-color="#6e6e6e"/><stop offset=".64362" stop-color="#7d7d7d"/><stop offset=".64543" stop-color="#6e6e6e"/><stop offset=".64543" stop-color="#000000"/><stop offset=".65436" stop-color="#000000"/><stop offset=".65436" stop-color="#535353"/><stop offset=".65613" stop-color="#5d5d5d"/><stop offset=".6579" stop-color="#535353"/><stop offset=".6579" stop-color="#000000"/><stop offset=".6622" stop-color="#000000"/><stop offset=".6622" stop-color="#767676"/><stop offset=".66515" stop-color="#b1b1b1"/><stop offset=".66515" stop-color="#dcdcdc"/><stop offset=".66848" stop-color="#ededed"/><stop offset=".67181" stop-color="#fcfcfc"/><stop offset=".67181" stop-color="#000000"/><stop offset=".6772" stop-color="#000000"/><stop offset=".6772" stop-color="#848484"/><stop offset=".67994" stop-color="#9c9c9c"/><stop offset=".68268" stop-color="#848484"/><stop offset=".68268" stop-color="#000000"/><stop offset=".69288" stop-color="#000000"/><stop offset=".69288" stop-color="#848484"/><stop offset=".69469" stop-color="#9c9c9c"/><stop offset=".6965" stop-color="#848484"/><stop offset=".6965" stop-color="#000000"/><stop offset=".70796" stop-color="#000000"/><stop offset=".70796" stop-color="#a1a1a1"/><stop offset=".71007" stop-color="#bfbfbf"/><stop offset=".71218" stop-color="#a1a1a1"/><stop offset=".71218" stop-color="#000000"/><stop offset=".72659" stop-color="#000000"/><stop offset=".72659" stop-color="#b1b1b1"/><stop offset=".7287" stop-color="#d4d4d4"/><stop offset=".7308" stop-color="#bababa"/><stop offset=".7308" stop-color="#000000"/><stop offset=".74345" stop-color="#000000"/><stop offset=".74345" stop-color="#767676"/><stop offset=".74526" stop-color="#8a8a8a"/><stop offset=".74707" stop-color="#767676"/><stop offset=".74707" stop-color="#000000"/><stop offset=".7748" stop-color="#000000"/><stop offset=".7748" stop-color="#767676"/><stop offset=".77724" stop-color="#b1b1b1"/><stop offset=".77724" stop-color="#dcdcdc"/><stop offset=".77965" stop-color="#ededed"/><stop offset=".78205" stop-color="#f5f5f5"/><stop offset=".78205" stop-color="#000000"/><stop offset=".78685" stop-color="#000000"/><stop offset=".78685" stop-color="#6e6e6e"/><stop offset=".78866" stop-color="#7d7d7d"/><stop offset=".79048" stop-color="#6e6e6e"/><stop offset=".79048" stop-color="#000000"/><stop offset=".79587" stop-color="#000000"/><stop offset=".79587" stop-color="#bababa"/><stop offset=".79861" stop-color="#e4e4e4"/><stop offset=".80135" stop-color="#e2e2e2"/><stop offset=".80135" stop-color="#000000"/><stop offset=".80674" stop-color="#000000"/><stop offset=".80674" stop-color="#848484"/><stop offset=".80885" stop-color="#9c9c9c"/><stop offset=".81096" stop-color="#848484"/><stop offset=".81096" stop-color="#000000"/><stop offset=".81627" stop-color="#000000"/><stop offset=".81627" stop-color="#535353"/><stop offset=".81896" stop-color="#5d5d5d"/><stop offset=".82166" stop-color="#535353"/><stop offset=".82166" stop-color="#000000"/><stop offset=".83523" stop-color="#000000"/><stop offset=".83523" stop-color="#535353"/><stop offset=".83692" stop-color="#5d5d5d"/><stop offset=".8386" stop-color="#535353"/><stop offset=".8386" stop-color="#000000"/><stop offset=".84324" stop-color="#000000"/><stop offset=".84324" stop-color="#484848"/><stop offset=".84737" stop-color="#535353"/><stop offset=".8515" stop-color="#484848"/><stop offset=".8515" stop-color="#000000"/><stop offset=".85832" stop-color="#000000"/><stop offset=".85832" stop-color="#767676"/><stop offset=".86068" stop-color="#8a8a8a"/><stop offset=".86304" stop-color="#767676"/><stop offset=".86304" stop-color="#000000"/><stop offset=".87316" stop-color="#000000"/><stop offset=".87316" stop-color="#909090"/><stop offset=".87488" stop-color="#acacac"/><stop offset=".87661" stop-color="#909090"/><stop offset=".87661" stop-color="#000000"/><stop offset=".88816" stop-color="#000000"/><stop offset=".88816" stop-color="#767676"/><stop offset=".89086" stop-color="#a7a7a7"/><stop offset=".89086" stop-color="#c8c8c8"/><stop offset=".8949" stop-color="#dcdcdc"/><stop offset=".89895" stop-color="#fcfcfc"/><stop offset=".89895" stop-color="#000000"/><stop offset=".90299" stop-color="#000000"/><stop offset=".90299" stop-color="#cccccc"/><stop offset=".90573" stop-color="#e2e2e2"/><stop offset=".90847" stop-color="#e4e4e4"/><stop offset=".90847" stop-color="#000000"/><stop offset=".91386" stop-color="#000000"/><stop offset=".91386" stop-color="#848484"/><stop offset=".91656" stop-color="#969696"/><stop offset=".91926" stop-color="#848484"/><stop offset=".91926" stop-color="#000000"/><stop offset=".92668" stop-color="#000000"/><stop offset=".92668" stop-color="#484848"/><stop offset=".9292" stop-color="#484848"/><stop offset=".9292" stop-color="#000000"/><stop offset=".9351" stop-color="#000000"/><stop offset=".9351" stop-color="#484848"/><stop offset=".93763" stop-color="#484848"/><stop offset=".93763" stop-color="#000000"/><stop offset=".94185" stop-color="#000000"/><stop offset=".94185" stop-color="#484848"/><stop offset=".94437" stop-color="#484848"/><stop offset=".94437" stop-color="#000000"/><stop offset=".95592" stop-color="#000000"/><stop offset=".95592" stop-color="#767676"/><stop offset=".95862" stop-color="#a7a7a7"/><stop offset=".95862" stop-color="#cccccc"/><stop offset=".963" stop-color="#d8d8d8"/><stop offset=".96738" stop-color="#dcdcdc"/><stop offset=".96738" stop-color="#000000"/><stop offset=".97354" stop-color="#000000"/><stop offset=".97354" stop-color="#6e6e6e"/><stop offset=".9759" stop-color="#7d7d7d"/><stop offset=".97826" stop-color="#6e6e6e"/><stop offset=".97826" stop-color="#000000"/><stop offset=".98146" stop-color="#000000"/><stop offset=".98146" stop-color="#535353"/><stop offset=".98399" stop-color="#535353"/><stop offset=".98399" stop-color="#000000"/><stop offset=".98702" stop-color="#000000"/><stop offset=".98702" stop-color="#848484"/><stop offset=".99077" stop-color="#b1b1b1"/><stop offset=".99452" stop-color="#c3c3c3"/><stop offset=".99452" stop-color="#000000"/><stop offset="1" stop-color="#000000"/></linearGradient><linearGradient id="gybm" href="#gxbm" gradientUnits="userSpaceOnUse" x1="0" y1="1612.3" x2="0" y2="2799.5"/><filter id="cmb0" filterUnits="userSpaceOnUse" x="0" y="0" width="1607" height="2958" color-interpolation-filters="sRGB"><feComponentTransfer><feFuncR type="table" tableValues="1 1 1 1 1 1 1 1 1 1 1 1 1 1 1 1 1 1 1 1 1 1 1 1 1 1 1 1 1 1 1 1 1 1 1 1 1 1 1 1 1 1 1 1 1 1 1 1 1 1 1 1 1 1 1 1 1 1 1 1 1 1 1 1 1 1 1 1 1 1 1 1 1 1 1 1 1 1 1 1 1 1 1 1 1 1 1 1 1 1 1 1 1 1 1 1 1 1 1 1 1 1 1 1 1 1 1 1 1 1 1 1 1 1 1 1 1 1 1 1 1 1 1 1 1 1 1 1 1 1 1 1 1 1 1 1 1 1 1 1 1 1 1 .993 .986 .978 .971 .964 .957 .949 .942 .934 .927 .919 .912 .904 .896 .889 .881 .873 .865 .857 .849 .841 .833 .825 .816 .808 .8 .792 .783 .775 .766 .758 .749 .74 .71 .678 .646 .614 .582 .55 .517 .484 .451 .418 .385 .352 .318 .284 .25 .216 .181 .147 .112 0 0 0 0 0 0 0 0 0 0 0 0 0 0 0 0 0 0 0 0 0 0 0 0 0 0 0 0 0 0 0 0 0 0 0 0 0 0 0 0 0 0 0 0 0 0 0 0 0 0 0 0 0 0 0 0 0 0 0 0 0"/><feFuncG type="table" tableValues="0 0 0 0 .001 .001 .001 .002 .002 .003 .004 .005 .006 .007 .008 .009 .01 .011 .013 .014 .016 .017 .019 .021 .022 .024 .026 .028 .031 .033 .035 .037 .04 .042 .045 .048 .05 .053 .056 .059 .062 .065 .069 .072 .075 .079 .082 .086 .09 .093 .097 .101 .105 .109 .113 .118 .122 .126 .131 .135 .14 .144 .149 .154 .159 .164 .169 .174 .179 .184 .19 .195 .201 .206 .212 .217 .223 .229 .235 .241 .247 .253 .259 .265 .271 .278 .284 .291 .297 .304 .31 .317 .324 .331 .338 .344 .351 .358 .366 .373 .38 .387 .394 .402 .409 .416 .424 .431 .439 .447 .454 .462 .47 .477 .485 .493 .501 .508 .516 .524 .532 .54 .548 .556 .564 .572 .58 .588 .596 .604 .612 .62 .628 .636 .644 .652 .66 .668 .676 .684 .692 .699 .707 .715 .723 .731 .738 .746 .754 .761 .769 .776 .783 .791 .798 .805 .812 .819 .826 .833 .84 .847 .853 .86 .866 .873 .879 .885 .891 .897 .903 .908 .914 .919 .924 .93 .935 .939 .944 .948 .953 .957 .961 .965 .968 .972 .975 .978 .981 .984 .987 .989 .991 .993 .995 .996 .997 .998 .999 1 1 1 1 .999 .999 .998 .997 .995 .993 .991 .989 .987 .984 .981 .977 .974 .97 .965 .961 .956 .951 .945 .94 .933 .927 .92 .913 .906 .898 .89 .882 .874 .865 .855 .846 .836 .826 .815 .804 .793 .782 .77 .758 .745 .732 .719 .706 .692 .678 .664 .649 .634 .619 .603 .587 .571"/><feFuncB type="table" tableValues="0 0 0 0 0 0 .001 .001 .001 .002 .002 .002 .003 .003 .004 .004 .005 .006 .006 .007 .008 .009 .009 .01 .011 .012 .013 .014 .015 .016 .018 .019 .02 .021 .023 .024 .025 .027 .028 .03 .031 .033 .034 .036 .038 .039 .041 .043 .045 .047 .049 .051 .053 .055 .057 .059 .061 .063 .065 .068 .07 .072 .075 .077 .08 .082 .085 .087 .09 .093 .095 .098 .101 .104 .106 .109 .112 .115 .118 .121 .124 .127 .131 .134 .137 .14 .144 .147 .15 .154 .157 .161 .164 .168 .171 .175 .179 .182 .186 .19 .194 .197 .201 .205 .209 .213 .217 .221 .225 .229 .234 .238 .242 .246 .25 .255 .259 .264 .268 .272 .277 .281 .286 .29 .295 .3 .304 .309 .314 .319 .323 .328 .333 .338 .343 .348 .353 .358 .363 .368 .373 .378 .383 .388 .393 .398 .403 .409 .414 .419 .424 .43 .435 .44 .446 .451 .457 .462 .467 .473 .478 .484 .489 .495 .5 .506 .511 .517 .523 .528 .534 .539 .545 .551 .556 .562 .567 .573 .579 .584 .59 .596 .601 .607 .613 .618 .624 .63 .635 .641 .647 .652 .658 .664 .669 .675 .68 .686 .692 .697 .703 .708 .714 .719 .725 .73 .736 .741 .747 .752 .757 .763 .768 .773 .778 .784 .789 .794 .799 .804 .809 .814 .819 .824 .829 .834 .839 .844 .848 .853 .858 .862 .867 .871 .876 .88 .884 .889 .893 .897 .901 .905 .909 .913 .917 .921 .924 .928 .931 .935 .938 .942 .945 .948 .951 .954"/></feComponentTransfer></filter><filter id="blb" filterUnits="userSpaceOnUse" x="133.5" y="1604.3" width="1202.5" height="1203.2" color-interpolation-filters="sRGB"><feGaussianBlur stdDeviation="1"/></filter>
<linearGradient id="cbb" x1="0" y1="1" x2="0" y2="0"><stop offset="0" stop-color="#8000ff"/><stop offset=".025" stop-color="#7314ff"/><stop offset=".05" stop-color="#6628fe"/><stop offset=".075" stop-color="#593cfd"/><stop offset=".1" stop-color="#4c4ffc"/><stop offset=".125" stop-color="#4062fa"/><stop offset=".1339" stop-color="#3b68f9"/><stop offset=".134" stop-color="#0068f9"/><stop offset=".15" stop-color="#0074f8"/><stop offset=".175" stop-color="#0085f5"/><stop offset=".2" stop-color="#0096f3"/><stop offset=".225" stop-color="#00a6ef"/><stop offset=".25" stop-color="#00b4ec"/><stop offset=".275" stop-color="#00c2e8"/><stop offset=".3" stop-color="#00cee3"/><stop offset=".325" stop-color="#00d9de"/><stop offset=".35" stop-color="#00e3d9"/><stop offset=".375" stop-color="#00ecd4"/><stop offset=".4" stop-color="#00f3ce"/><stop offset=".425" stop-color="#00f8c8"/><stop offset=".45" stop-color="#00fcc2"/><stop offset=".475" stop-color="#00febb"/><stop offset=".5" stop-color="#00ffb4"/><stop offset=".525" stop-color="#00fead"/><stop offset=".53" stop-color="#00feac"/><stop offset=".5301" stop-color="#17feac"/><stop offset=".55" stop-color="#3cfca6"/><stop offset=".575" stop-color="#6af89e"/><stop offset=".6" stop-color="#98f396"/><stop offset=".62" stop-color="#bded8f"/><stop offset=".625" stop-color="#bfec8e"/><stop offset=".65" stop-color="#cce385"/><stop offset=".675" stop-color="#d9d97d"/><stop offset=".7" stop-color="#e5ce74"/><stop offset=".725" stop-color="#f2c26b"/><stop offset=".75" stop-color="#ffb462"/><stop offset=".775" stop-color="#ffa658"/><stop offset=".8" stop-color="#ff964f"/><stop offset=".825" stop-color="#ff8545"/><stop offset=".85" stop-color="#ff743c"/><stop offset=".875" stop-color="#ff6232"/><stop offset=".9" stop-color="#ff4f28"/><stop offset=".925" stop-color="#ff3c1e"/><stop offset=".95" stop-color="#ff2814"/><stop offset=".975" stop-color="#ff140a"/><stop offset="1" stop-color="#ff0000"/></linearGradient>
</defs>
<g filter="url(#bla)"><g filter="url(#cma0)" style="isolation:isolate"><rect x="129.3" y="109" width="660.2" height="660.48" fill="url(#gxam)"/><rect x="129.3" y="109" width="660.2" height="660.48" fill="url(#gyam)" style="mix-blend-mode:difference"/></g><g filter="url(#cma0)" style="isolation:isolate"><rect x="789.5" y="109" width="535.8" height="660.48" fill="url(#gxam)"/><rect x="789.5" y="109" width="535.8" height="660.48" fill="url(#gyam)" style="mix-blend-mode:difference"/></g><g filter="url(#cma0)" style="isolation:isolate"><rect x="129.3" y="769.48" width="660.2" height="536.02" fill="url(#gxam)"/><rect x="129.3" y="769.48" width="660.2" height="536.02" fill="url(#gyam)" style="mix-blend-mode:difference"/></g><g filter="url(#cma1)" style="isolation:isolate"><rect x="789.5" y="769.48" width="535.8" height="536.02" fill="url(#gxar)"/><rect x="789.5" y="769.48" width="535.8" height="536.02" fill="url(#gyar)" style="mix-blend-mode:difference"/></g></g>
<rect x="1398.4" y="38.4" width="67.8" height="1337" fill="url(#cba)"/>
<g filter="url(#blb)"><g filter="url(#cmb0)" style="isolation:isolate"><rect x="141.5" y="1612.3" width="1186.5" height="1187.2" fill="url(#gxbm)"/><rect x="141.5" y="1612.3" width="1186.5" height="1187.2" fill="url(#gybm)" style="mix-blend-mode:difference"/></g></g>
<rect x="1401.3" y="1542" width="67" height="1327.3" fill="url(#cbb)"/>
<path d="M113.7 113.6H129.6M113.7 152.5H129.6M113.7 191.4H129.6M113.7 230.3H129.6M113.7 269.2H129.6M113.7 308.1H129.6M113.7 347H129.6M113.7 385.9H129.6M113.7 424.8H129.6M113.7 463.7H129.6M113.7 502.6H129.6M113.7 541.5H129.6M113.7 580.4H129.6M113.7 619.3H129.6M113.7 658.2H129.6M113.7 697.1H129.6M113.7 736H129.6M113.7 774.9H129.6M113.7 813.8H129.6M113.7 852.7H129.6M113.7 891.6H129.6M113.7 930.5H129.6M113.7 969.4H129.6M113.7 1008.3H129.6M113.7 1047.2H129.6M113.7 1086.1H129.6M113.7 1125H129.6M113.7 1163.9H129.6M113.7 1202.8H129.6M113.7 1241.7H129.6M113.7 1280.6H129.6M133.7 1305V1323M180.38 1305V1323M227.06 1305V1323M273.74 1305V1323M320.42 1305V1323M367.1 1305V1323M413.78 1305V1323M460.46 1305V1323M507.14 1305V1323M553.82 1305V1323M600.5 1305V1323M647.18 1305V1323M693.86 1305V1323M740.54 1305V1323M787.22 1305V1323M833.9 1305V1323M880.58 1305V1323M927.26 1305V1323M973.94 1305V1323M1020.62 1305V1323M1067.3 1305V1323M1113.98 1305V1323M1160.66 1305V1323M1207.34 1305V1323M1254.02 1305V1323M1300.7 1305V1323M1466 40.2H1483.7M1466 257.1H1483.7M1466 474H1483.7M1466 690.9H1483.7M1466 907.8H1483.7M1466 1124.7H1483.7M1466 1341.6H1483.7M127.2 1613.8H141.8M127.2 1649.99H141.8M127.2 1686.18H141.8M127.2 1722.37H141.8M127.2 1758.56H141.8M127.2 1794.75H141.8M127.2 1830.94H141.8M127.2 1867.13H141.8M127.2 1903.32H141.8M127.2 1939.51H141.8M127.2 1975.7H141.8M127.2 2011.89H141.8M127.2 2048.08H141.8M127.2 2084.27H141.8M127.2 2120.46H141.8M127.2 2156.65H141.8M127.2 2192.84H141.8M127.2 2229.03H141.8M127.2 2265.22H141.8M127.2 2301.41H141.8M127.2 2337.6H141.8M127.2 2373.79H141.8M127.2 2409.98H141.8M127.2 2446.17H141.8M127.2 2482.36H141.8M127.2 2518.55H141.8M127.2 2554.74H141.8M127.2 2590.93H141.8M127.2 2627.12H141.8M127.2 2663.31H141.8M127.2 2699.5H141.8M127.2 2735.69H141.8M127.2 2771.88H141.8M143 2799V2816.8M189.04 2799V2816.8M235.08 2799V2816.8M281.12 2799V2816.8M327.16 2799V2816.8M373.2 2799V2816.8M419.24 2799V2816.8M465.28 2799V2816.8M511.32 2799V2816.8M557.36 2799V2816.8M603.4 2799V2816.8M649.44 2799V2816.8M695.48 2799V2816.8M741.52 2799V2816.8M787.56 2799V2816.8M833.6 2799V2816.8M879.64 2799V2816.8M925.68 2799V2816.8M971.72 2799V2816.8M1017.76 2799V2816.8M1063.8 2799V2816.8M1109.84 2799V2816.8M1155.88 2799V2816.8M1201.92 2799V2816.8M1247.96 2799V2816.8M1294 2799V2816.8M1468 1543.4H1485M1468 1828.3H1485M1468 2113.2H1485M1468 2398.1H1485M1468 2683H1485" stroke="#111" stroke-width="4" fill="none"/>
<g font-family="'Liberation Sans', sans-serif" fill="#111" text-anchor="middle"><text transform="scale(.93,1)" x="95.48" y="128.22" font-size="45">0</text><text transform="scale(.93,1)" x="71.08 92.15" y="167.12" font-size="45">10</text><text transform="scale(.93,1)" x="71.08 92.15" y="206.02" font-size="45">20</text><text transform="scale(.93,1)" x="71.08 92.15" y="244.92" font-size="45">30</text><text transform="scale(.93,1)" x="71.08 92.15" y="283.82" font-size="45">40</text><text transform="scale(.93,1)" x="71.08 92.15" y="322.73" font-size="45">50</text><text transform="scale(.93,1)" x="71.08 92.15" y="361.62" font-size="45">60</text><text transform="scale(.93,1)" x="71.08 92.15" y="400.52" font-size="45">70</text><text transform="scale(.93,1)" x="71.08 92.15" y="439.42" font-size="45">80</text><text transform="scale(.93,1)" x="71.08 92.15" y="478.32" font-size="45">90</text><text transform="scale(.93,1)" x="50 71.08 92.15" y="517.23" font-size="45">100</text><text transform="scale(.93,1)" x="50 71.08 92.15" y="556.12" font-size="45">110</text><text transform="scale(.93,1)" x="50 71.08 92.15" y="595.02" font-size="45">120</text><text transform="scale(.93,1)" x="50 71.08 92.15" y="633.92" font-size="45">130</text><text transform="scale(.93,1)" x="50 71.08 92.15" y="672.83" font-size="45">140</text><text transform="scale(.93,1)" x="50 71.08 92.15" y="711.73" font-size="45">150</text><text transform="scale(.93,1)" x="50 71.08 92.15" y="750.62" font-size="45">160</text><text transform="scale(.93,1)" x="50 71.08 92.15" y="789.52" font-size="45">170</text><text transform="scale(.93,1)" x="50 71.08 92.15" y="828.42" font-size="45">180</text><text transform="scale(.93,1)" x="50 71.08 92.15" y="867.33" font-size="45">190</text><text transform="scale(.93,1)" x="50 71.08 92.15" y="906.23" font-size="45">200</text><text transform="scale(.93,1)" x="50 71.08 92.15" y="945.12" font-size="45">210</text><text transform="scale(.93,1)" x="50 71.08 92.15" y="984.02" font-size="45">220</text><text transform="scale(.93,1)" x="50 71.08 92.15" y="1022.92" font-size="45">230</text><text transform="scale(.93,1)" x="50 71.08 92.15" y="1061.82" font-size="45">240</text><text transform="scale(.93,1)" x="50 71.08 92.15" y="1100.72" font-size="45">250</text><text transform="scale(.93,1)" x="50 71.08 92.15" y="1139.62" font-size="45">260</text><text transform="scale(.93,1)" x="50 71.08 92.15" y="1178.52" font-size="45">270</text><text transform="scale(.93,1)" x="50 71.08 92.15" y="1217.42" font-size="45">280</text><text transform="scale(.93,1)" x="50 71.08 92.15" y="1256.32" font-size="45">290</text><text transform="scale(.93,1)" x="50 71.08 92.15" y="1295.22" font-size="45">300</text><text transform="translate(145.2,1363.6) rotate(-90) scale(.93,1)" x="11.08" y="0" font-size="45">0</text><text transform="translate(188.38,1386.7) rotate(-90) scale(.93,1)" x="11.08 33.23" y="0" font-size="45">12</text><text transform="translate(235.06,1386.7) rotate(-90) scale(.93,1)" x="11.08 33.23" y="0" font-size="45">24</text><text transform="translate(281.74,1386.7) rotate(-90) scale(.93,1)" x="11.08 33.23" y="0" font-size="45">36</text><text transform="translate(328.42,1386.7) rotate(-90) scale(.93,1)" x="11.08 33.23" y="0" font-size="45">48</text><text transform="translate(375.1,1386.7) rotate(-90) scale(.93,1)" x="11.08 33.23" y="0" font-size="45">60</text><text transform="translate(421.78,1386.7) rotate(-90) scale(.93,1)" x="11.08 33.23" y="0" font-size="45">72</text><text transform="translate(468.46,1386.7) rotate(-90) scale(.93,1)" x="11.08 33.23" y="0" font-size="45">84</text><text transform="translate(515.14,1386.7) rotate(-90) scale(.93,1)" x="11.08 33.23" y="0" font-size="45">96</text><text transform="translate(565.82,1408.5) rotate(-90) scale(.93,1)" x="10.75 32.26 53.76" y="0" font-size="45">108</text><text transform="translate(612.5,1408.5) rotate(-90) scale(.93,1)" x="10.75 32.26 53.76" y="0" font-size="45">120</text><text transform="translate(659.18,1408.5) rotate(-90) scale(.93,1)" x="10.75 32.26 53.76" y="0" font-size="45">132</text><text transform="translate(705.86,1408.5) rotate(-90) scale(.93,1)" x="10.75 32.26 53.76" y="0" font-size="45">144</text><text transform="translate(752.54,1408.5) rotate(-90) scale(.93,1)" x="10.75 32.26 53.76" y="0" font-size="45">156</text><text transform="translate(799.22,1408.5) rotate(-90) scale(.93,1)" x="10.75 32.26 53.76" y="0" font-size="45">168</text><text transform="translate(845.9,1408.5) rotate(-90) scale(.93,1)" x="10.75 32.26 53.76" y="0" font-size="45">180</text><text transform="translate(892.58,1408.5) rotate(-90) scale(.93,1)" x="10.75 32.26 53.76" y="0" font-size="45">192</text><text transform="translate(939.26,1403.5) rotate(-90) scale(.93,1)" x="10.75 32.26 53.76" y="0" font-size="45">204</text><text transform="translate(985.94,1403.5) rotate(-90) scale(.93,1)" x="10.75 32.26 53.76" y="0" font-size="45">216</text><text transform="translate(1032.62,1403.5) rotate(-90) scale(.93,1)" x="10.75 32.26 53.76" y="0" font-size="45">228</text><text transform="translate(1079.3,1403.5) rotate(-90) scale(.93,1)" x="10.75 32.26 53.76" y="0" font-size="45">240</text><text transform="translate(1125.98,1403.5) rotate(-90) scale(.93,1)" x="10.75 32.26 53.76" y="0" font-size="45">252</text><text transform="translate(1172.66,1403.5) rotate(-90) scale(.93,1)" x="10.75 32.26 53.76" y="0" font-size="45">264</text><text transform="translate(1219.34,1403.5) rotate(-90) scale(.93,1)" x="10.75 32.26 53.76" y="0" font-size="45">276</text><text transform="translate(1266.02,1403.5) rotate(-90) scale(.93,1)" x="10.75 32.26 53.76" y="0" font-size="45">288</text><text transform="translate(1312.7,1403.5) rotate(-90) scale(.93,1)" x="10.75 32.26 53.76" y="0" font-size="45">300</text><text transform="scale(.93,1)" x="1622.9 1638.6 1667.2 1689.35" y="57.31" font-size="45">1.00</text><text transform="scale(.93,1)" x="1622.9 1638.6 1667.2 1689.35" y="274.21" font-size="45">0.95</text><text transform="scale(.93,1)" x="1622.9 1638.6 1667.2 1689.35" y="491.11" font-size="45">0.90</text><text transform="scale(.93,1)" x="1622.9 1638.6 1667.2 1689.35" y="708.01" font-size="45">0.85</text><text transform="scale(.93,1)" x="1622.9 1638.6 1667.2 1689.35" y="924.91" font-size="45">0.80</text><text transform="scale(.93,1)" x="1622.9 1638.6 1667.2 1689.35" y="1141.81" font-size="45">0.75</text><text transform="scale(.93,1)" x="1622.9 1638.6 1667.2 1689.35" y="1358.71" font-size="45">0.70</text><text transform="scale(.93,1)" x="104.78" y="1631.92" font-size="45">0</text><text transform="scale(.93,1)" x="82.53 104.78" y="1665.12" font-size="45">74</text><text transform="scale(.93,1)" x="60.27 82.53 104.78" y="1701.3" font-size="45">148</text><text transform="scale(.93,1)" x="60.27 82.53 104.78" y="1737.49" font-size="45">222</text><text transform="scale(.93,1)" x="60.27 82.53 104.78" y="1773.68" font-size="45">296</text><text transform="scale(.93,1)" x="60.27 82.53 104.78" y="1809.88" font-size="45">370</text><text transform="scale(.93,1)" x="60.27 82.53 104.78" y="1846.07" font-size="45">444</text><text transform="scale(.93,1)" x="60.27 82.53 104.78" y="1882.25" font-size="45">518</text><text transform="scale(.93,1)" x="60.27 82.53 104.78" y="1918.44" font-size="45">592</text><text transform="scale(.93,1)" x="60.27 82.53 104.78" y="1954.63" font-size="45">666</text><text transform="scale(.93,1)" x="60.27 82.53 104.78" y="1990.82" font-size="45">740</text><text transform="scale(.93,1)" x="60.27 82.53 104.78" y="2027.01" font-size="45">814</text><text transform="scale(.93,1)" x="60.27 82.53 104.78" y="2063.2" font-size="45">888</text><text transform="scale(.93,1)" x="60.27 82.53 104.78" y="2099.39" font-size="45">962</text><text transform="scale(.93,1)" x="38.01 60.27 82.53 104.78" y="2135.59" font-size="45">1036</text><text transform="scale(.93,1)" x="38.01 60.27 82.53 104.78" y="2171.77" font-size="45">1110</text><text transform="scale(.93,1)" x="38.01 60.27 82.53 104.78" y="2207.97" font-size="45">1184</text><text transform="scale(.93,1)" x="38.01 60.27 82.53 104.78" y="2244.15" font-size="45">1258</text><text transform="scale(.93,1)" x="38.01 60.27 82.53 104.78" y="2280.34" font-size="45">1332</text><text transform="scale(.93,1)" x="38.01 60.27 82.53 104.78" y="2316.53" font-size="45">1406</text><text transform="scale(.93,1)" x="38.01 60.27 82.53 104.78" y="2352.72" font-size="45">1480</text><text transform="scale(.93,1)" x="38.01 60.27 82.53 104.78" y="2388.91" font-size="45">1554</text><text transform="scale(.93,1)" x="38.01 60.27 82.53 104.78" y="2425.11" font-size="45">1628</text><text transform="scale(.93,1)" x="38.01 60.27 82.53 104.78" y="2461.3" font-size="45">1702</text><text transform="scale(.93,1)" x="38.01 60.27 82.53 104.78" y="2497.48" font-size="45">1776</text><text transform="scale(.93,1)" x="38.01 60.27 82.53 104.78" y="2533.68" font-size="45">1850</text><text transform="scale(.93,1)" x="38.01 60.27 82.53 104.78" y="2569.86" font-size="45">1924</text><text transform="scale(.93,1)" x="38.01 60.27 82.53 104.78" y="2606.05" font-size="45">1998</text><text transform="scale(.93,1)" x="38.01 60.27 82.53 104.78" y="2642.24" font-size="45">2072</text><text transform="scale(.93,1)" x="38.01 60.27 82.53 104.78" y="2678.43" font-size="45">2146</text><text transform="scale(.93,1)" x="38.01 60.27 82.53 104.78" y="2714.62" font-size="45">2220</text><text transform="scale(.93,1)" x="38.01 60.27 82.53 104.78" y="2750.81" font-size="45">2294</text><text transform="scale(.93,1)" x="38.01 60.27 82.53 104.78" y="2787.01" font-size="45">2368</text><text transform="translate(154,2859.7) rotate(-90) scale(.93,1)" x="11.13" y="0" font-size="45">0</text><text transform="translate(198.04,2880.4) rotate(-90) scale(.93,1)" x="11.13 33.39" y="0" font-size="45">94</text><text transform="translate(244.48,2901.1) rotate(-90) scale(.93,1)" x="11.13 33.39 55.65" y="0" font-size="45">188</text><text transform="translate(290.52,2901.1) rotate(-90) scale(.93,1)" x="11.13 33.39 55.65" y="0" font-size="45">282</text><text transform="translate(336.56,2901.1) rotate(-90) scale(.93,1)" x="11.13 33.39 55.65" y="0" font-size="45">376</text><text transform="translate(382.6,2901.1) rotate(-90) scale(.93,1)" x="11.13 33.39 55.65" y="0" font-size="45">470</text><text transform="translate(428.64,2901.1) rotate(-90) scale(.93,1)" x="11.13 33.39 55.65" y="0" font-size="45">564</text><text transform="translate(474.68,2901.1) rotate(-90) scale(.93,1)" x="11.13 33.39 55.65" y="0" font-size="45">658</text><text transform="translate(520.72,2901.1) rotate(-90) scale(.93,1)" x="11.13 33.39 55.65" y="0" font-size="45">752</text><text transform="translate(566.76,2901.1) rotate(-90) scale(.93,1)" x="11.13 33.39 55.65" y="0" font-size="45">846</text><text transform="translate(612.8,2901.1) rotate(-90) scale(.93,1)" x="11.13 33.39 55.65" y="0" font-size="45">940</text><text transform="translate(661.44,2921.8) rotate(-90) scale(.93,1)" x="11.13 33.39 55.65 77.9" y="0" font-size="45">1034</text><text transform="translate(707.48,2921.8) rotate(-90) scale(.93,1)" x="11.13 33.39 55.65 77.9" y="0" font-size="45">1128</text><text transform="translate(753.52,2921.8) rotate(-90) scale(.93,1)" x="11.13 33.39 55.65 77.9" y="0" font-size="45">1222</text><text transform="translate(799.56,2921.8) rotate(-90) scale(.93,1)" x="11.13 33.39 55.65 77.9" y="0" font-size="45">1316</text><text transform="translate(845.6,2921.8) rotate(-90) scale(.93,1)" x="11.13 33.39 55.65 77.9" y="0" font-size="45">1410</text><text transform="translate(891.64,2921.8) rotate(-90) scale(.93,1)" x="11.13 33.39 55.65 77.9" y="0" font-size="45">1504</text><text transform="translate(937.68,2921.8) rotate(-90) scale(.93,1)" x="11.13 33.39 55.65 77.9" y="0" font-size="45">1598</text><text transform="translate(983.72,2921.8) rotate(-90) scale(.93,1)" x="11.13 33.39 55.65 77.9" y="0" font-size="45">1692</text><text transform="translate(1029.76,2921.8) rotate(-90) scale(.93,1)" x="11.13 33.39 55.65 77.9" y="0" font-size="45">1786</text><text transform="translate(1075.8,2921.8) rotate(-90) scale(.93,1)" x="11.13 33.39 55.65 77.9" y="0" font-size="45">1880</text><text transform="translate(1121.84,2921.8) rotate(-90) scale(.93,1)" x="11.13 33.39 55.65 77.9" y="0" font-size="45">1974</text><text transform="translate(1167.88,2921.8) rotate(-90) scale(.93,1)" x="11.13 33.39 55.65 77.9" y="0" font-size="45">2068</text><text transform="translate(1213.92,2921.8) rotate(-90) scale(.93,1)" x="11.13 33.39 55.65 77.9" y="0" font-size="45">2162</text><text transform="translate(1259.96,2921.8) rotate(-90) scale(.93,1)" x="11.13 33.39 55.65 77.9" y="0" font-size="45">2256</text><text transform="translate(1306,2921.8) rotate(-90) scale(.93,1)" x="11.13 33.39 55.65 77.9" y="0" font-size="45">2350</text><text transform="scale(.93,1)" x="1625.59 1641.29 1669.89" y="1562.01" font-size="45">1.0</text><text transform="scale(.93,1)" x="1625.59 1641.29 1669.89" y="1846.91" font-size="45">0.9</text><text transform="scale(.93,1)" x="1625.59 1641.29 1669.89" y="2131.81" font-size="45">0.8</text><text transform="scale(.93,1)" x="1625.59 1641.29 1669.89" y="2416.71" font-size="45">0.7</text><text transform="scale(.93,1)" x="1625.59 1641.29 1669.89" y="2701.61" font-size="45">0.6</text><text transform="scale(.75,1)" x="378.67 410.47 436.93 486.07 521.87 557.67 593.47 629.27 665.07 700.87 736.67 772.47 808.27 844.07 879.87 915.67 951.47 987.27 1023.07 1058.87 1094.67 1130.47 1166.27 1202.07 1237.87 1273.67 1309.47 1345.27 1381.07 1416.87 1452.67 1488.47 1524.27 1560.07" y="83.5" font-size="54" stroke="#111" stroke-width=".9">(a) Spatial correlation of dataset</text><text transform="scale(.75,1)" x="378.67 410.13 436.27 485.07 520.53 556 591.47 626.93 662.4 697.87 733.33 768.8 804.27 839.73 875.2 910.67 946.13 981.6 1017.07 1052.53 1088 1123.47 1158.93 1194.4 1229.87 1265.33 1300.8 1336.27 1371.73 1407.2 1442.67 1478.13 1513.6 1549.07 1584.53" y="1585.5" font-size="54" stroke="#111" stroke-width=".9">(b) Temporal correlation of dataset</text></g>
</svg>
</body></html>
